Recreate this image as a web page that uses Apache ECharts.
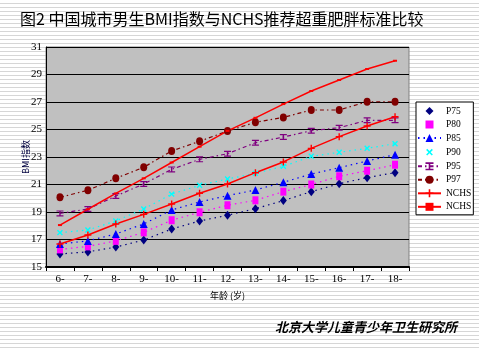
<!DOCTYPE html>
<html>
<head>
<meta charset="utf-8">
<script src="https://cdn.jsdelivr.net/npm/echarts@6/dist/echarts.min.js"></script>
<style>
  html, body { margin: 0; padding: 0; }
  body {
    width: 479px; height: 351px; overflow: hidden;
    background: repeating-linear-gradient(to bottom, #fff 0px, #fff 3px, #d6d6d6 3px, #d6d6d6 4px);
  }
  #chart { width: 479px; height: 351px; }
</style>
</head>
<body>
<div id="chart"></div>
<script>
const ages = ['6-', '7-', '8-', '9-', '10-', '11-', '12-', '13-', '14-', '15-', '16-', '17-', '18-'];

const p75 = [15.95, 16.1, 16.45, 16.96, 17.76, 18.35, 18.76, 19.24, 19.83, 20.48, 21.06, 21.5, 21.86];
const p80 = [16.28, 16.5, 16.9, 17.52, 18.4, 18.98, 19.49, 19.85, 20.48, 21.0, 21.6, 22.0, 22.44];
const p85 = [16.67, 16.9, 17.4, 18.13, 19.15, 19.73, 20.19, 20.6, 21.16, 21.76, 22.22, 22.71, 23.17];
const p90 = [17.5, 17.69, 18.35, 19.22, 20.3, 20.94, 21.4, 21.81, 22.32, 23.05, 23.34, 23.63, 23.97];
const p95 = [18.9, 19.22, 20.16, 21.04, 22.1, 22.83, 23.24, 24.04, 24.45, 24.91, 25.13, 25.67, 25.67];
const p97 = [20.07, 20.58, 21.45, 22.25, 23.44, 24.14, 24.89, 25.52, 25.88, 26.42, 26.42, 27.02, 27.02];
const nchsOver = [16.67, 17.33, 18.13, 18.83, 19.58, 20.36, 21.04, 21.86, 22.64, 23.63, 24.48, 25.25, 25.93];
const nchsObese = [18.05, 19.2, 20.35, 21.45, 22.6, 23.75, 24.9, 25.85, 26.85, 27.8, 28.6, 29.4, 30.0];

const legendNames = ['P75', 'P80', 'P85', 'P90', 'P95', 'P97', 'NCHS超重', 'NCHS肥胖'];
// these show only the marker in the legend, no line
const markerOnly = ['P75', 'P80', 'P90'];

const plusPath = 'path://M4,0H6V4H10V6H6V10H4V6H0V4H4Z';
const iPath = 'path://M0,0H10V2H6V8H10V10H0V8H4V2H0Z';
const dotted = [1.5, 4];
const dashDot = [4, 3, 1.5, 3];

function pct(name, data, color, symbol, size, dash, extra) {
    return Object.assign({
        name: name,
        type: 'line',
        data: data,
        symbol: symbol,
        symbolSize: size,
        showAllSymbol: true,
        itemStyle: { color: color },
        lineStyle: { color: color, width: 1.2, type: dash },
        emphasis: { disabled: true },
        z: 3
    }, extra || {});
}

const chart = echarts.init(document.getElementById('chart'), null, { renderer: 'canvas' });

chart.setOption({
    animation: false,
    title: [
        {
            text: '图2 中国城市男生BMI指数与NCHS推荐超重肥胖标准比较',
            left: 20, top: 11, padding: 0,
            textStyle: { fontFamily: 'Noto Sans CJK SC', fontSize: 16, fontWeight: 'normal', color: '#000' }
        },
        {
            text: '北京大学儿童青少年卫生研究所',
            left: 275, top: 321, padding: 0,
            textStyle: { fontFamily: 'Noto Sans CJK SC', fontSize: 13, fontWeight: 'bold', fontStyle: 'italic', color: '#000' }
        }
    ],
    legend: {
        orient: 'vertical',
        left: 416, top: 102,
        width: 58,
        padding: [4, 2, 3, 1],
        itemWidth: 23, itemHeight: 10, itemGap: 3.5,
        backgroundColor: '#fff',
        borderColor: '#000', borderWidth: 1, borderRadius: 0,
        textStyle: {
            fontFamily: 'Liberation Serif', fontSize: 9.5, color: '#000',
            width: 31, overflow: 'truncate', ellipsis: ''
        },
        data: legendNames.map(n => markerOnly.includes(n)
            ? { name: n, lineStyle: { opacity: 0 } }
            : { name: n })
    },
    grid: {
        left: 46, right: 70, top: 47, bottom: 84,
        show: true, backgroundColor: '#c0c0c0', borderColor: '#808080', borderWidth: 1
    },
    xAxis: {
        type: 'category',
        data: ages,
        boundaryGap: true,
        name: '年龄 (岁)',
        nameLocation: 'middle',
        nameGap: 24,
        nameTextStyle: { fontFamily: 'Noto Sans CJK SC', fontSize: 9, color: '#000' },
        axisLine: { lineStyle: { color: '#000', width: 2 } },
        axisTick: { show: true, length: 4, lineStyle: { color: '#000' } },
        axisLabel: { fontFamily: 'Liberation Serif', fontSize: 11, color: '#000', margin: 7 }
    },
    yAxis: {
        type: 'value',
        min: 15, max: 31, interval: 2,
        name: 'BMI指数',
        nameLocation: 'middle',
        nameGap: 16,
        nameRotate: 90,
        nameMoveOverlap: false,
        nameTextStyle: { fontFamily: 'Noto Sans CJK SC', fontSize: 9, color: '#000040' },
        axisLine: { show: true, lineStyle: { color: '#000', width: 1 } },
        axisTick: { show: false },
        splitLine: { lineStyle: { color: '#000', width: 1 } },
        axisLabel: { fontFamily: 'Liberation Serif', fontSize: 11, color: '#000', margin: 4 }
    },
    series: [
        pct('P75', p75, '#000080', 'diamond', [7, 9], dotted),
        pct('P80', p80, '#ff00ff', 'rect', [6, 8], dotted),
        pct('P85', p85, '#0000ff', 'triangle', [8, 8], dotted),
        pct('P90', p90, '#00ffff', plusPath, 7, dotted, { symbolRotate: 45 }),
        pct('P95', p95, '#800080', iPath, [7, 6], dashDot),
        pct('P97', p97, '#800000', 'circle', [7, 8], dashDot),
        pct('NCHS超重', nchsOver, '#ff0000', plusPath, 7, 'solid', { lineStyle: { color: '#ff0000', width: 1.5 } }),
        pct('NCHS肥胖', nchsObese, '#ff0000', 'rect', [4, 2], 'solid', { lineStyle: { color: '#ff0000', width: 1.5 } })
    ]
});
</script>
</body>
</html>
